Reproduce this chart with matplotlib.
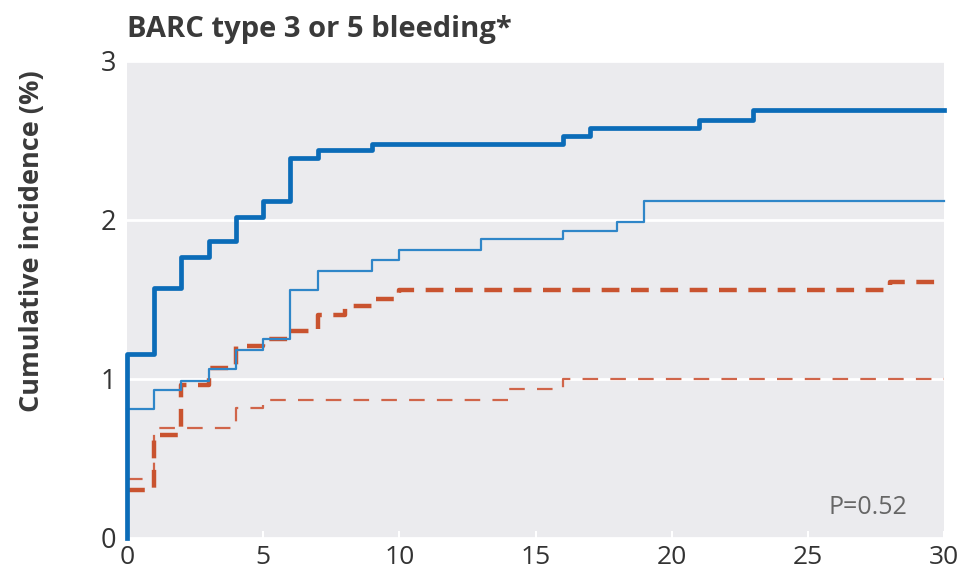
import matplotlib
matplotlib.use("Agg")
import matplotlib.pyplot as plt

# ---- data ----
title = "BARC type 3 or 5 bleeding*"
ylabel = "Cumulative incidence (%)"
x_ticks = [0, 5, 10, 15, 20, 25, 30]
y_ticks = [0, 1, 2, 3]
p_text = "P=0.52"

# thick blue solid
t_blue_thick = [0, 0, 1, 2, 3, 4, 5, 6, 7, 9, 16, 17, 21, 23, 30]
v_blue_thick = [0, 1.16, 1.57, 1.77, 1.87, 2.02, 2.12, 2.39, 2.44, 2.48, 2.53, 2.58, 2.63, 2.69, 2.69]

# thin blue solid
t_blue_thin = [0, 1, 2, 3, 4, 5, 6, 7, 9, 10, 13, 16, 18, 19, 30]
v_blue_thin = [0.81, 0.93, 0.99, 1.06, 1.18, 1.25, 1.56, 1.68, 1.75, 1.81, 1.88, 1.93, 1.99, 2.12, 2.12]

# thick red dashed
t_red_thick = [0, 1, 2, 3, 4, 5, 6, 7, 8, 9, 10, 28, 30]
v_red_thick = [0.30, 0.65, 0.96, 1.07, 1.21, 1.25, 1.30, 1.40, 1.46, 1.50, 1.56, 1.61, 1.61]

# thin red dashed
t_red_thin = [0, 1, 4, 5, 14, 16, 30]
v_red_thin = [0.37, 0.69, 0.82, 0.87, 0.94, 1.00, 1.00]

plt.rcParams['font.family'] = ['Open Sans', 'DejaVu Sans']

fig = plt.figure(figsize=(9.63, 5.73), dpi=100)
ax = fig.add_axes([0.1319, 0.0611, 0.8484, 0.8325])
ax.set_facecolor('#ebebee')
for s in ax.spines.values():
    s.set_visible(False)

ax.set_xlim(0, 30)
ax.set_ylim(0, 3)
ax.set_xticks(x_ticks)
ax.set_yticks(y_ticks)
ax.set_xticklabels([str(v) for v in x_ticks])
ax.set_yticklabels([str(v) for v in y_ticks])
ax.tick_params(axis='x', direction='in', length=5, width=1.5, color='white',
               labelsize=19, labelcolor='#333333', pad=5)
ax.tick_params(axis='y', length=0, labelsize=19.5, labelcolor='#333333', pad=8)

ax.set_axisbelow(True)
ax.yaxis.grid(True, color='white', linewidth=2)
ax.xaxis.grid(False)

ax.plot(t_red_thin, v_red_thin, drawstyle='steps-post', color='#d0654a',
        linewidth=1.6, dashes=(7, 5.5), clip_on=False, zorder=3)
ax.plot(t_red_thick, v_red_thick, drawstyle='steps-post', color='#c9532f',
        linewidth=3.2, dashes=(4, 2.6), clip_on=False, zorder=4)
ax.plot(t_blue_thin, v_blue_thin, drawstyle='steps-post', color='#2f86c8',
        linewidth=1.6, clip_on=False, zorder=5)
ax.plot(t_blue_thick, v_blue_thick, drawstyle='steps-post', color='#0b6cb8',
        linewidth=3.4, clip_on=False, zorder=6)

ax.text(27.2, 0.19, p_text, fontsize=18, color='#666666', ha='center', va='center')

fig.text(0.1319, 0.948, title, fontsize=21, fontweight='bold', color='#3a3a3a',
         ha='left', va='center')
fig.text(0.033, 0.58, ylabel, fontsize=19.5, fontweight='bold', color='#3a3a3a',
         rotation=90, ha='center', va='center')

fig.savefig('out.png', dpi=100)
